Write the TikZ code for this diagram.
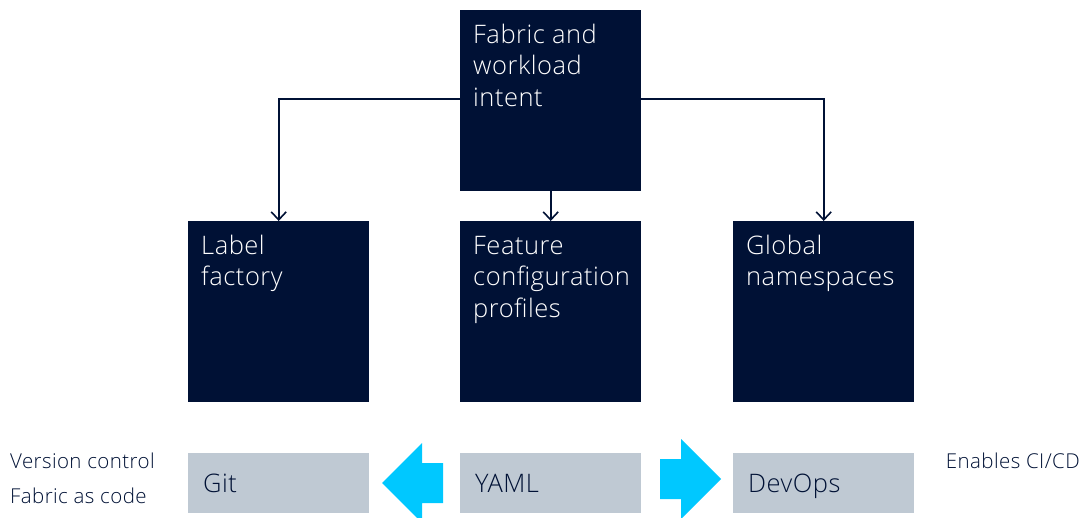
\documentclass[tikz,border=0pt]{standalone}
\usepackage{fontspec}
\IfFontExistsTF{Open Sans Light}{\setmainfont{Open Sans Light}[LetterSpace=2]}{\setmainfont{Open Sans}[LetterSpace=2]}
\usetikzlibrary{arrows.meta}
\definecolor{navy}{HTML}{001135}
\definecolor{slate}{HTML}{BFC9D3}
\definecolor{sky}{HTML}{00C8FF}
% top-aligned text block of a dark square, first baseline 33pt below its top
\newcommand{\boxtext}[1]{\parbox[c][181pt][t]{155pt}{\hfuzz=20pt\raggedright\fontsize{25.5}{31.5}\selectfont\rule{0pt}{33pt}#1}}
\tikzset{
  intent/.style={fill=navy, text=white, inner sep=0pt, minimum width=181pt, minimum height=181pt, anchor=north west},
  tool/.style={fill=slate, text=navy, inner xsep=15pt, inner ysep=0pt, text width=151pt, align=left,
    minimum height=60pt, text height=18pt, text depth=0pt, anchor=north west, font=\fontsize{25.5}{28}\selectfont},
  note/.style={text=navy, inner sep=0pt, font=\fontsize{20.5}{22}\selectfont, anchor=base west},
  conn/.style={draw=navy, line width=1.8pt, -{Straight Barb[length=8pt,width=15pt,line width=1.6pt]}},
  bigarrow/.style={fill=sky}
}
\begin{document}
\begin{tikzpicture}[x=1pt, y=-1pt]
  \useasboundingbox (0,0) rectangle (1083,518);
  \clip (0,0) rectangle (1083,518);

  % intent hierarchy
  \node[intent] (top) at (460,10) {\boxtext{Fabric and\\workload\\intent}};
  \node[intent] (lf) at (188,221) {\boxtext{Label\\factory}};
  \node[intent] (fc) at (460,221) {\boxtext{Feature\\configuration\\profiles}};
  \node[intent] (gn) at (733,221) {\boxtext{Global\\namespaces}};

  \draw[conn] ([yshift=1.5pt]top.west) -| (lf.north);
  \draw[conn] (top.south) -- (fc.north);
  \draw[conn] ([yshift=1.5pt]top.east) -| (gn.north);

  % tooling row
  \node[tool] (git) at (188,453) {Git};
  \node[tool] (yaml) at (460,453) {YAML};
  \node[tool] (devops) at (733,453) {DevOps};

  \fill[bigarrow] (443,463) -- (422,463) -- (422,443) -- (382,483) -- (422,523) -- (422,503) -- (443,503) -- cycle;
  \fill[bigarrow] (660,459) -- (681,459) -- (681,439) -- (721,479) -- (681,519) -- (681,499) -- (660,499) -- cycle;

  % side notes
  \node[note] (vc) at (10,468) {Version control};
  \node[note] (fac) at (10,503) {Fabric as code};
  \node[note, anchor=base east] (ci) at (1080,468) {Enables CI/CD};
\end{tikzpicture}
\end{document}
